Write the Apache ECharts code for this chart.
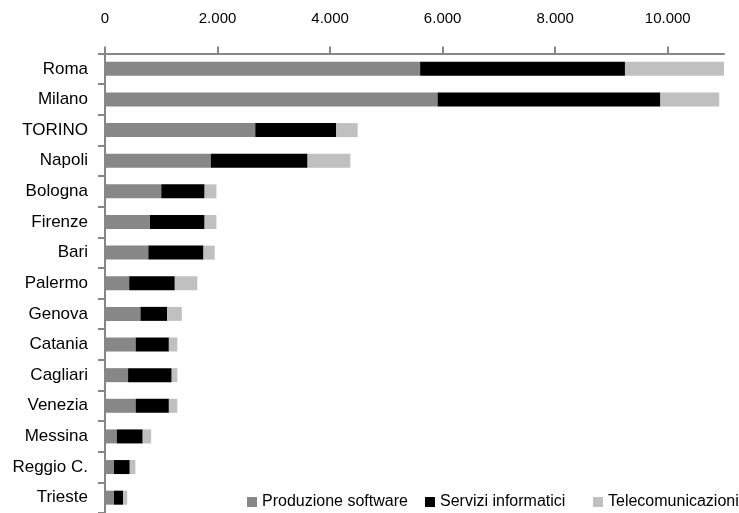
<!DOCTYPE html>
<html>
<head>
<meta charset="utf-8">
<script src="https://cdn.jsdelivr.net/npm/echarts@6/dist/echarts.min.js"></script>
<style>
html,body{margin:0;padding:0;background:#fff;}
#c{width:739px;height:513px;}
</style>
</head>
<body>
<div id="c"></div>
<script>
const categories = ['Roma','Milano','TORINO','Napoli','Bologna','Firenze','Bari','Palermo','Genova','Catania','Cagliari','Venezia','Messina','Reggio C.','Trieste'];
const produzioneSoftware = [5600, 5910, 2670, 1880, 1000, 800, 770, 430, 630, 545, 410, 545, 210, 160, 160];
const serviziInformatici = [3640, 3960, 1440, 1720, 770, 970, 980, 810, 475, 590, 775, 590, 460, 280, 160];
const telecomunicazioni = [1760, 1045, 380, 760, 210, 210, 200, 400, 260, 150, 100, 150, 150, 100, 75];
const seriesNames = ['Produzione software', 'Servizi informatici', 'Telecomunicazioni'];
const seriesColors = ['#878787', '#000000', '#c0c0c0'];
const legendLefts = [247, 425, 593];

const FONT = "'Liberation Sans', Arial, sans-serif";
const chart = echarts.init(document.getElementById('c'), null, {renderer: 'canvas'});
const values = [produzioneSoftware, serviziInformatici, telecomunicazioni];
chart.setOption({
  animation: false,
  backgroundColor: '#ffffff',
  textStyle: {fontFamily: FONT},
  grid: {left: 105, width: 619, top: 53.5, height: 463, containLabel: false},
  legend: seriesNames.map((n, i) => ({
    data: [n],
    left: legendLefts[i], top: 494,
    itemWidth: 10, itemHeight: 10, itemGap: 0, padding: 0,
    icon: 'rect',
    textStyle: {fontFamily: FONT, fontSize: 16, color: '#000'}
  })),
  xAxis: {
    type: 'value', position: 'top', min: 0, max: 11000, interval: 2000,
    axisLine: {show: true, lineStyle: {color: '#868686', width: 2}},
    axisTick: {show: true, length: 7, lineStyle: {color: '#868686', width: 2}},
    splitLine: {show: false},
    axisLabel: {
      margin: 27, fontFamily: FONT, fontSize: 15, color: '#000',
      showMaxLabel: false,
      formatter: v => v.toString().replace(/\B(?=(\d{3})+(?!\d))/g, '.')
    }
  },
  yAxis: {
    type: 'category', data: categories, inverse: true,
    axisLine: {show: true, lineStyle: {color: '#868686', width: 2}},
    axisTick: {show: true, length: 7, lineStyle: {color: '#868686', width: 2}},
    axisLabel: {margin: 17, fontFamily: FONT, fontSize: 17, color: '#000'}
  },
  series: seriesNames.map((n, i) => ({
    name: n, type: 'bar', stack: 'tot', barWidth: 14,
    itemStyle: {color: seriesColors[i]},
    data: values[i]
  }))
});
</script>
</body>
</html>
